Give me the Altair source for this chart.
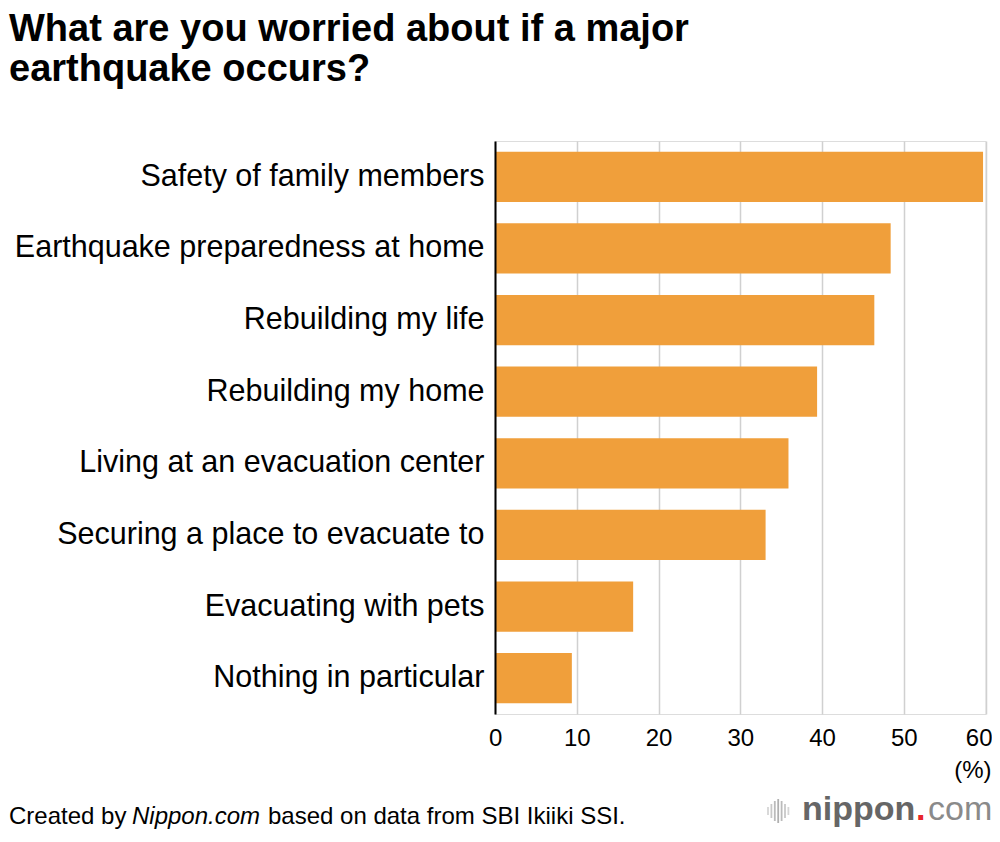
import altair as alt
import pandas as pd

# ---- data ----
categories = [
    "Safety of family members",
    "Earthquake preparedness at home",
    "Rebuilding my life",
    "Rebuilding my home",
    "Living at an evacuation center",
    "Securing a place to evacuate to",
    "Evacuating with pets",
    "Nothing in particular",
]
values = [59.7, 48.4, 46.4, 39.4, 35.9, 33.1, 16.9, 9.4]
x_ticks = [0, 10, 20, 30, 40, 50, 60]
title_lines = ["What are you worried about if a major", "earthquake occurs?"]
footer_parts = ["Created by", "Nippon.com", "based on data from SBI Ikiiki SSI."]
logo_parts = ["nippon", ".", "com"]

FONT = "Liberation Sans"
BAR = "#F09F3B"
W, H = 490.5, 573

df = pd.DataFrame({"concern": categories, "pct": values})
one = pd.DataFrame({"k": [0]})

bars = alt.Chart(df).mark_bar(color=BAR).encode(
    x=alt.X(
        "pct:Q",
        scale=alt.Scale(domain=[0, 60], nice=False),
        axis=alt.Axis(
            values=x_ticks, grid=True, gridColor="#d0d0d0", gridWidth=1.5,
            domain=False, ticks=False, labelFontSize=24, labelFont=FONT,
            labelColor="black", labelPadding=12,
            labelFlush=True, labelFlushOffset=6.5,
            title="(%)", titleFont=FONT, titleFontSize=24, titleFontWeight="normal",
            titleColor="black", titleAlign="right", titleBaseline="alphabetic",
            titleX=496, titleY=63,
        ),
    ),
    y=alt.Y(
        "concern:N", sort=categories,
        scale=alt.Scale(paddingInner=0.3, paddingOuter=0.15),
        axis=alt.Axis(
            title=None, ticks=False, domain=True, domainColor="black", domainWidth=2,
            labelFontSize=30.5, labelFont=FONT, labelColor="black", labelPadding=11,
            labelLimit=0, zindex=1,
        ),
    ),
)


def txt(s, x, y, size, color="black", weight="normal", style="normal"):
    return alt.Chart(one).mark_text(
        align="left", baseline="alphabetic", font=FONT, fontSize=size,
        color=color, fontWeight=weight, fontStyle=style,
    ).encode(x=alt.value(x), y=alt.value(y), text=alt.value(s))


title = [
    txt(title_lines[0], -486, -100, 38, weight="bold"),
    txt(title_lines[1], -486, -60, 38, weight="bold"),
]

footer = [
    txt(footer_parts[0], -486, 683, 24),
    txt(footer_parts[1], -363, 683, 24, style="italic"),
    txt(footer_parts[2], -227, 683, 24),
]

logo = [
    txt(logo_parts[0], 307, 679, 34, color="#666666", weight="bold"),
    txt(logo_parts[1], 421, 679, 34, color="#e8262b", weight="bold"),
    txt(logo_parts[2], 433, 679, 34, color="#8a8a8a"),
]

icon_heights = [8, 14, 20, 24, 20, 14, 8]
icon_colors = ["#d5d5d5", "#c8c8c8", "#bbbbbb", "#b0b0b0", "#bbbbbb", "#c8c8c8", "#d5d5d5"]
icon = []
for i, (h, c) in enumerate(zip(icon_heights, icon_colors)):
    xx = 273 + i * 3.4
    icon.append(
        alt.Chart(one).mark_rule(color=c, strokeWidth=1.8).encode(
            x=alt.value(xx), y=alt.value(670 - h / 2), y2=alt.value(670 + h / 2)
        )
    )

chart = alt.layer(bars, *title, *footer, *logo, *icon).properties(
    width=W,
    height=H,
    autosize="none",
    padding={"left": 487, "top": 133, "right": 6.5, "bottom": 116},
).configure_view(stroke=None).configure(background="white")

chart.save("out.html", embed_options={"renderer": "svg", "actions": False})
